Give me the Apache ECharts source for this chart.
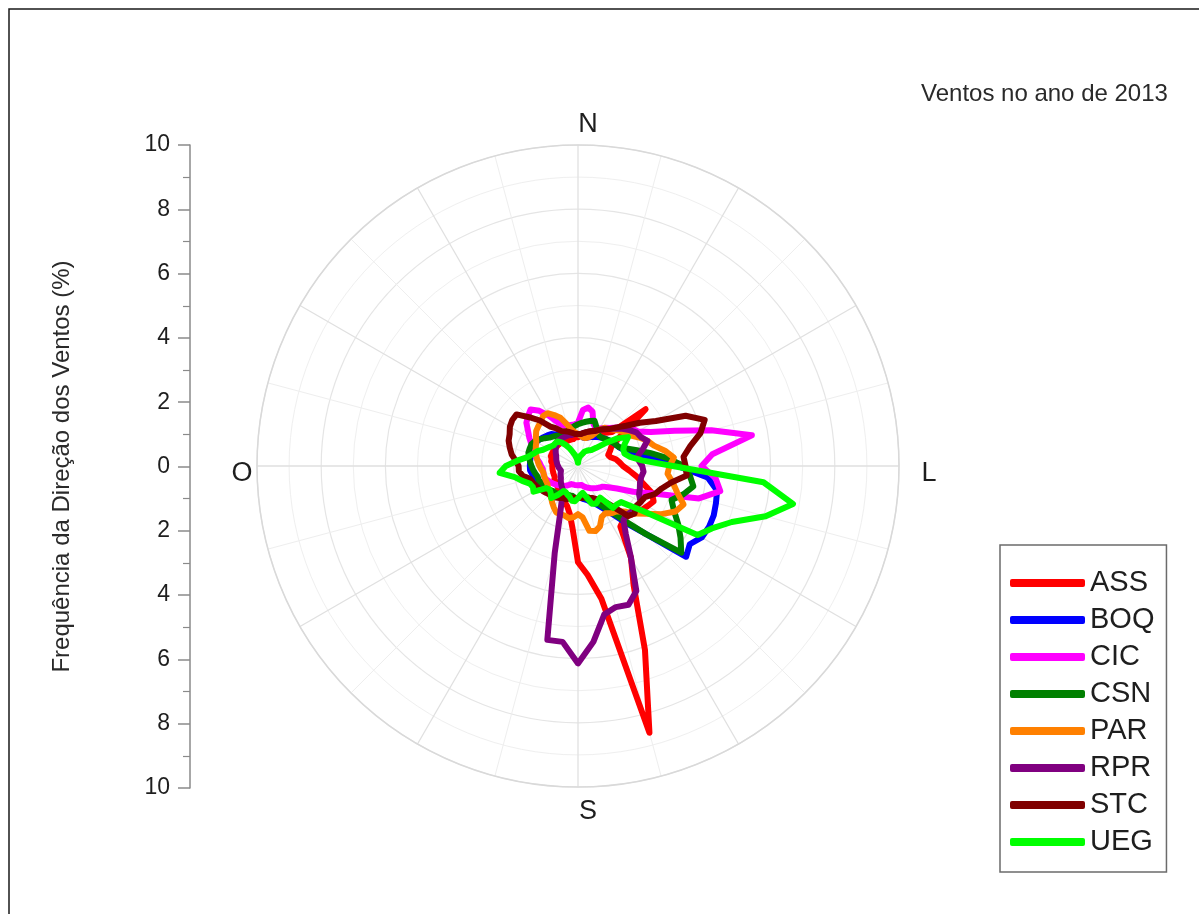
<!DOCTYPE html>
<html>
<head>
<meta charset="utf-8">
<script src="https://cdn.jsdelivr.net/npm/echarts@6/dist/echarts.min.js"></script>
<style>html,body{margin:0;padding:0;background:#fff}#chart{width:1199px;height:914px}</style>
</head>
<body>
<div id="chart"></div>
<script>
// Wind direction (degrees, clockwise from North)
const directions = [0,5,10,15,20,25,30,35,40,45,50,55,60,65,70,75,80,85,90,95,
  100,105,110,115,120,125,130,135,140,145,150,155,160,165,170,175,180,185,190,195,
  200,205,210,215,220,225,230,235,240,245,250,255,260,265,270,275,280,285,290,295,
  300,305,310,315,320,325,330,335,340,345,350,355];

// Frequency of wind direction (%) per station
const ASS = [0.9,0.95,1.0,1.05,1.1,1.15,1.2,1.25,1.35,1.5, 2.75,1.6,1.2,1.1,1.0,1.05,1.2,1.3,1.4,1.6,
  1.85,2.1,2.45,2.6,2.5,2.4,2.3,2.2,2.2,2.3, 3.3,4.1,6.1,8.6,4.2,3.4,3.0,1.95,1.5,1.3,
  1.2,1.1,1.0,1.0,0.95,0.9,0.9,0.85,0.85,0.8, 0.8,0.8,0.8,0.8,0.8,0.8,0.85,0.85,0.9,0.9,
  0.9,0.9,0.9,0.9,0.9,0.9,0.9,0.85,0.85,0.85, 0.85,0.9];
const BOQ = [1.0,0.95,0.9,0.9,0.95,1.0,1.05,1.1,1.15,1.2, 1.25,1.3,1.35,1.4,1.5,1.7,2.0,2.45,3.1,4.05,
  4.4,4.45,4.5,4.5,4.45,4.25,4.4,3.0,2.3,1.8, 1.5,1.3,1.2,1.1,1.05,1.0,1.0,1.0,1.0,1.0,
  1.05,1.1,1.1,1.1,1.15,1.2,1.2,1.25,1.3,1.35, 1.4,1.4,1.45,1.5,1.5,1.5,1.5,1.5,1.55,1.55,
  1.5,1.45,1.4,1.35,1.3,1.2,1.15,1.1,1.05,1.0, 1.0,1.0];
const CIC = [1.35,1.75,1.85,1.75,1.4,1.3,1.35,1.45,1.55,1.7, 1.9,2.05,2.15,2.5,3.2,4.3,5.5,4.2,3.85,4.3,
  4.5,3.9,2.5,1.9,1.4,1.15,1.0,0.95,0.9,0.85, 0.8,0.75,0.7,0.65,0.6,0.6,0.6,0.6,0.6,0.6,
  0.6,0.65,0.7,0.75,0.8,0.85,0.9,0.95,1.0,1.05, 1.1,1.1,1.1,1.1,1.15,1.2,1.3,1.4,1.5,1.6,
  1.75,1.9,2.1,2.2,2.3,2.1,1.8,1.5,1.35,1.3, 1.3,1.3];
const CSN = [1.3,1.35,1.4,1.45,1.5,1.35,1.2,1.15,1.15,1.2, 1.25,1.3,1.35,1.4,1.6,1.9,2.3,2.8,3.3,3.5,
  3.65,3.4,3.1,3.3,3.6,3.9,4.2,3.0,2.2,1.7, 1.4,1.2,1.1,1.05,1.0,1.0,1.0,1.0,0.95,0.95,
  0.95,1.0,1.0,1.05,1.1,1.1,1.15,1.2,1.2,1.25, 1.3,1.3,1.35,1.4,1.45,1.5,1.55,1.6,1.6,1.6,
  1.55,1.45,1.35,1.25,1.2,1.15,1.1,1.1,1.1,1.15, 1.2,1.25];
const PAR = [1.0,0.95,0.9,0.9,0.95,1.05,1.3,1.45,1.5,1.6, 1.7,1.8,1.9,2.1,2.3,2.45,2.75,3.0,2.85,2.8,
  3.0,3.2,3.5,3.35,3.0,2.6,2.3,2.0,1.85,1.8, 1.7,1.75,2.0,2.1,2.05,1.6,1.5,1.6,1.65,1.6,
  1.6,1.6,1.5,1.4,1.3,1.25,1.2,1.15,1.1,1.1, 1.1,1.1,1.1,1.15,1.2,1.25,1.3,1.35,1.4,1.45,
  1.5,1.6,1.7,1.75,1.8,1.9,1.9,1.75,1.6,1.35, 1.15,1.05];
const RPR = [1.0,1.0,1.05,1.1,1.15,1.2,1.3,1.4,1.5,1.65, 1.8,1.95,2.1,2.15,2.3,2.1,1.9,1.9,2.0,2.05,
  2.0,2.0,2.05,2.1,2.25,2.2,2.2,2.15,2.2,2.6, 3.3,4.3,4.6,4.55,4.7,5.5,6.15,5.5,5.5,2.8,
  1.65,1.2,0.95,0.85,0.8,0.75,0.7,0.65,0.65,0.6, 0.6,0.55,0.55,0.6,0.6,0.65,0.65,0.7,0.7,0.75,
  0.8,0.85,0.9,0.95,1.0,1.0,1.0,1.0,1.0,1.0, 1.0,1.0];
const STC = [1.0,1.0,1.05,1.1,1.15,1.2,1.3,1.4,1.5,1.7, 1.95,2.35,2.8,3.7,4.2,3.95,3.55,3.3,3.35,3.4,
  2.95,2.7,2.55,2.3,2.25,2.2,2.3,2.2,1.6,1.3, 1.2,1.1,1.05,1.0,1.0,1.0,1.0,1.0,1.0,1.05,
  1.1,1.1,1.15,1.2,1.2,1.25,1.3,1.35,1.4,1.45, 1.5,1.55,1.75,1.85,1.85,1.95,2.1,2.2,2.3,2.35,
  2.45,2.5,2.5,2.15,1.85,1.5,1.35,1.2,1.15,1.1, 1.05,1.0];
const UEG = [0.1,0.2,0.3,0.35,0.4,0.5,0.55,0.6,0.65,0.8, 1.1,1.5,1.8,1.6,1.5,1.5,1.65,2.0,2.95,5.8,
  6.8,6.05,5.1,4.6,4.3,2.4,1.75,1.7,1.7,1.2, 1.25,1.3,1.25,1.0,0.85,0.9,1.0,1.1,1.1,1.0,
  0.95,0.9,0.9,1.1,1.3,1.2,1.15,1.2,1.6,1.55, 1.6,1.8,2.0,2.45,2.25,1.9,1.6,1.45,1.35,1.2,
  1.12,1.05,1.0,1.0,1.0,0.9,0.75,0.6,0.45,0.35, 0.25,0.15];

const stationNames = ['ASS','BOQ','CIC','CSN','PAR','RPR','STC','UEG'];
const stationValues = [ASS, BOQ, CIC, CSN, PAR, RPR, STC, UEG];
const stationColors = ['#ff0000','#0000ff','#ff00ff','#008000','#ff8000','#800080','#800000','#00ff00'];

const yTicks = [-10,-8,-6,-4,-2,0,2,4,6,8,10];
const compassLabels = ['N','L','S','O'];

const FONT = '"Liberation Sans", Arial, Helvetica, sans-serif';

const chart = echarts.init(document.getElementById('chart'), null, {renderer: 'canvas'});

const series = stationNames.map((name, k) => {
  const vals = stationValues[k];
  const pts = vals.map((v, i) => [v, directions[i]]);
  pts.push([vals[0], 360]);
  return {
    name: name,
    type: 'line',
    coordinateSystem: 'polar',
    data: pts,
    symbol: 'none',
    smooth: false,
    color: stationColors[k],
    lineStyle: {width: 6, color: stationColors[k], join: 'round', cap: 'round'},
    emphasis: {disabled: true},
    animation: false
  };
});

const compassPos = [[588,125],[929,474],[588,812],[242,474]];

const option = {
  backgroundColor: '#ffffff',
  animation: false,
  textStyle: {fontFamily: FONT},
  title: {
    text: 'Ventos no ano de 2013',
    left: 921, top: 82, padding: 0,
    textStyle: {fontSize: 24, fontWeight: 'normal', color: '#2a2a2a', fontFamily: FONT}
  },
  legend: {
    orient: 'vertical',
    left: 1000, top: 545,
    padding: [23, 12, 15, 10],
    itemGap: 7,
    itemWidth: 75, itemHeight: 8,
    icon: 'roundRect',
    borderColor: '#6b6b6b', borderWidth: 1.5,
    backgroundColor: '#fff',
    data: stationNames,
    textStyle: {fontSize: 29, lineHeight: 30, color: '#1e1e1e', fontFamily: FONT},
    selectedMode: false
  },
  polar: {center: [578, 466], radius: 321},
  angleAxis: {
    type: 'value', min: 0, max: 360, interval: 30,
    startAngle: 90, clockwise: true,
    axisLine: {show: true, lineStyle: {color: '#d9d9d9', width: 1.5}},
    axisTick: {show: false},
    axisLabel: {show: false},
    splitLine: {show: true, lineStyle: {color: '#e0e0e0', width: 1.3}},
    minorTick: {show: false, splitNumber: 2},
    minorSplitLine: {show: true, lineStyle: {color: '#eeeeee', width: 1}}
  },
  radiusAxis: {
    type: 'value', min: 0, max: 10, interval: 2,
    axisLine: {show: false}, axisTick: {show: false}, axisLabel: {show: false},
    splitLine: {show: true, lineStyle: {color: '#e5e5e5', width: 1.2}},
    minorTick: {show: false, splitNumber: 2},
    minorSplitLine: {show: true, lineStyle: {color: '#efefef', width: 1}}
  },
  grid: {left: 190, top: 145, width: 10, height: 643},
  xAxis: {type: 'value', show: false, min: 0, max: 1},
  yAxis: {
    type: 'value', min: yTicks[0], max: yTicks[yTicks.length - 1], interval: 2,
    position: 'left',
    name: 'Frequência da Direção dos Ventos (%)',
    nameLocation: 'middle', nameGap: 116, nameRotate: 90,
    nameTextStyle: {fontSize: 24, color: '#2a2a2a', fontFamily: FONT},
    axisLine: {show: true, lineStyle: {color: '#8a8a8a', width: 1.5}},
    axisTick: {show: true, inside: false, length: 12, lineStyle: {color: '#8a8a8a', width: 1.5}},
    minorTick: {show: true, splitNumber: 2, length: 7, lineStyle: {color: '#8a8a8a', width: 1.2}},
    splitLine: {show: false},
    axisLabel: {
      margin: 20, fontSize: 23, color: '#1e1e1e', fontFamily: FONT,
      formatter: v => String(Math.abs(v))
    }
  },
  graphic: [
    {type: 'rect', silent: true, z: 100,
     shape: {x: 9, y: 9, width: 1400, height: 1100},
     style: {fill: 'none', stroke: '#1a1a1a', lineWidth: 1.5}}
  ].concat(compassLabels.map((t, i) => ({
    type: 'text', silent: true, x: compassPos[i][0], y: compassPos[i][1],
    style: {text: t, fontSize: 27, fill: '#1e1e1e', font: '27px ' + FONT,
            textAlign: 'center', textVerticalAlign: 'middle', align: 'center', verticalAlign: 'middle'}
  }))),
  series: series
};

chart.setOption(option);
</script>
</body>
</html>
